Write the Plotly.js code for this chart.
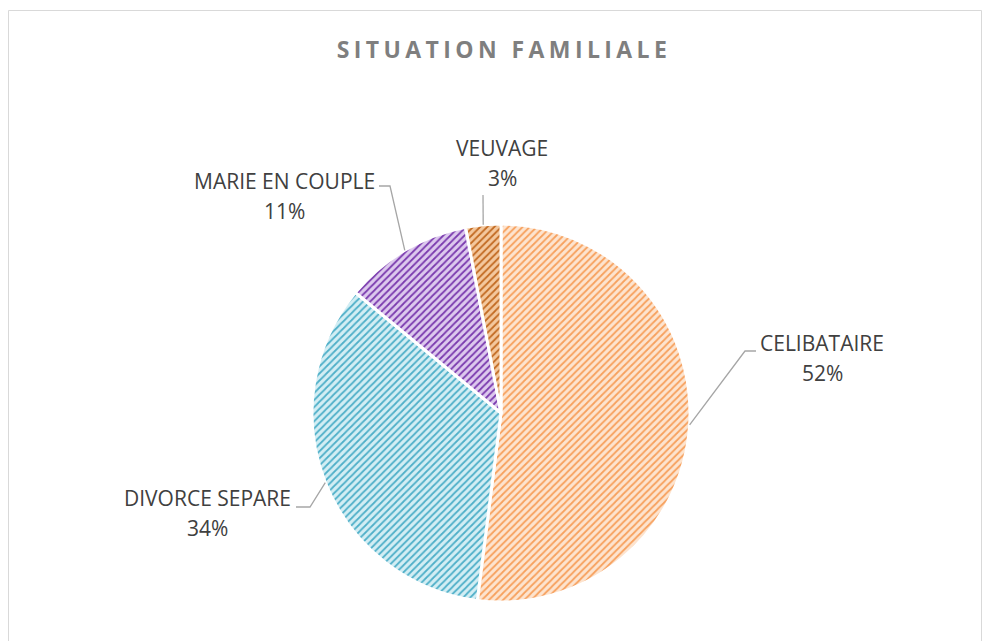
<!DOCTYPE html>
<html>
<head>
<meta charset="utf-8">
<script src="https://cdn.plot.ly/plotly-3.0.1.min.js"></script>
<style>
  html, body { margin: 0; padding: 0; background: #fff; }
  #chart { width: 990px; height: 641px; }
  .gtitle { letter-spacing: 4.4px; }
</style>
</head>
<body>
<div id="chart"></div>
<script>
// ---- Data ----
const categories = ["CELIBATAIRE", "DIVORCE SEPARE", "MARIE EN COUPLE", "VEUVAGE"];
const values = [52, 34, 11, 3];
const titleText = "SITUATION FAMILIALE";

// ---- Styles ----
const fgColors = ["#F7A05C", "#4EAFC8", "#7A3AAE", "#C26A22"];
const bgColors = ["#FDE4CF", "#D3EEF4", "#DDC9EE", "#F4C89E"];

// ---- Layout geometry (pixels) ----
const W = 990, H = 641;
const cx = 501, cy = 413, R = 189;
// label placement: [name center x, name center y, pct center y, elbow x, elbow y, end x, end y]
const labelPlace = [
  [822, 343, 373, 745, 351, 756, 351],
  [207, 498, 528, 310, 507, 296, 507],
  [284, 181, 211, 390, 186, 379, 186],
  [502, 148, 178, 483, 195, 483, 195]
];

const px = x => x / W;
const py = y => 1 - y / H;

const total = values.reduce((a, b) => a + b, 0);
const annotations = [];
const shapes = [];
let cum = 0;
const labelFont = { family: "Open Sans, sans-serif", size: 21, color: "#404040" };
values.forEach((v, i) => {
  const mid = (cum + v / 2) / total * 2 * Math.PI; // clockwise from 12 o'clock
  cum += v;
  const ex = cx + R * Math.sin(mid);
  const ey = cy - R * Math.cos(mid);
  const p = labelPlace[i];
  const pct = Math.round(v / total * 100) + "%";
  annotations.push({
    x: px(p[0]), y: py(p[1]), xref: "paper", yref: "paper",
    text: categories[i], showarrow: false, xanchor: "center", yanchor: "middle",
    font: labelFont
  });
  annotations.push({
    x: px(p[0]), y: py(p[2]), xref: "paper", yref: "paper",
    text: pct, showarrow: false, xanchor: "center", yanchor: "middle",
    font: labelFont
  });
  shapes.push({
    type: "path", xref: "paper", yref: "paper",
    path: `M ${px(ex)} ${py(ey)} L ${px(p[3])} ${py(p[4])} L ${px(p[5])} ${py(p[6])}`,
    line: { color: "#A6A6A6", width: 1.3 }
  });
});

// chart area border
shapes.push({
  type: "rect", xref: "paper", yref: "paper",
  x0: px(8.5), x1: px(981.5), y0: py(646), y1: py(10.5),
  line: { color: "#D9D9D9", width: 1 }, fillcolor: "rgba(0,0,0,0)", layer: "below"
});

const trace = {
  type: "pie",
  labels: categories,
  values: values,
  sort: false,
  direction: "clockwise",
  rotation: 0,
  textinfo: "none",
  hoverinfo: "label+percent",
  marker: {
    colors: bgColors,
    line: { color: "#FFFFFF", width: 3 },
    pattern: {
      shape: "/",
      fgcolor: fgColors,
      bgcolor: bgColors,
      size: 5,
      solidity: 0.35
    }
  },
  domain: { x: [px(cx - R), px(cx + R)], y: [py(cy + R), py(cy - R)] },
  showlegend: false
};

const layout = {
  width: W, height: H,
  margin: { l: 0, r: 0, t: 0, b: 0 },
  paper_bgcolor: "#FFFFFF",
  showlegend: false,
  title: {
    text: "<b>" + titleText + "</b>",
    x: px(504), xanchor: "center",
    y: py(50), yanchor: "middle",
    font: { family: "Open Sans, sans-serif", size: 23, color: "#7F7F7F" }
  },
  annotations: annotations,
  shapes: shapes
};

Plotly.newPlot("chart", [trace], layout, { displayModeBar: false, staticPlot: true });
</script>
</body>
</html>
